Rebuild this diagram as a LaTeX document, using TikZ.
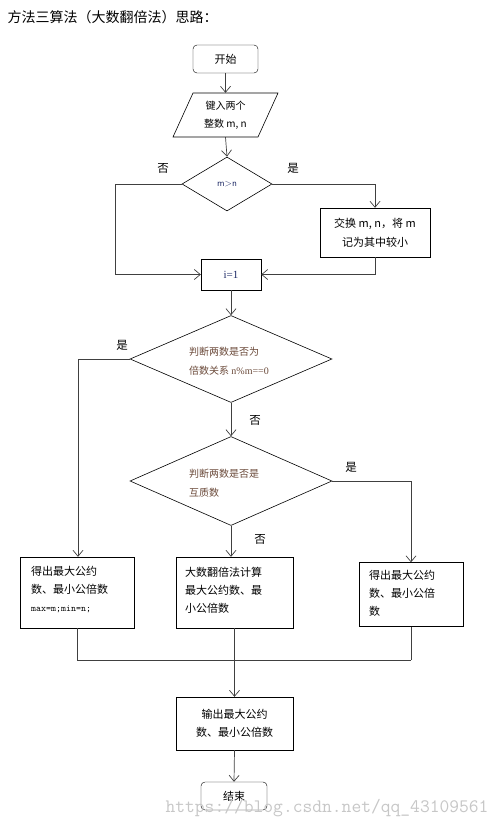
\documentclass[tikz,border=0pt]{standalone}
\usepackage{fontspec}
\setmainfont{Liberation Serif}
\newfontfamily\cjk{Noto Sans CJK SC}
\usetikzlibrary{arrows.meta,shapes.geometric,positioning}
\definecolor{linec}{HTML}{404040}
\definecolor{brownt}{HTML}{6B4A3A}
\definecolor{bluet}{HTML}{1E2A66}
\begin{document}
\begin{tikzpicture}[x=1pt,y=-1pt,
  every node/.style={font=\cjk\fontsize{11}{13}\selectfont},
  term/.style={draw=black,rounded corners=4pt,minimum width=65pt,minimum height=28pt,inner sep=0pt},
  procbox/.style={draw=black,inner sep=0pt},
  decide/.style={draw=black,diamond,inner sep=0pt,line width=0.6pt},
  ghostbox/.style={draw=none,inner sep=0pt},
  conn/.style={draw=linec,line width=0.7pt},
  arr/.style={conn,-{Straight Barb[length=6pt,width=10pt,line width=0.7pt]}},
  lbl/.style={font=\cjk\fontsize{11.5}{13}\selectfont}
]
\useasboundingbox (0,0) rectangle (503,832);
\fill[white] (0,0) rectangle (503,832);

\node[anchor=west,font=\cjk\fontsize{14}{16}\selectfont] (title) at (4,17) {方法三算法（大数翻倍法）思路：};

\node[term] (start) at (225.5,59) {开始};

\node[ghostbox,minimum width=85pt,minimum height=44pt,align=center,font=\cjk\fontsize{10}{17.5}\selectfont] (input) at (225.5,115) {键入两个\\整数 m, n};
\draw[black,line width=0.6pt] (173,137) -- (193,93) -- (278,93) -- (258,137) -- cycle;

\node[decide,minimum width=90pt,minimum height=54pt,font=\sffamily\fontsize{9.5}{11}\selectfont,text=bluet] (d1) at (227,184) {m>n};

\node[procbox,minimum width=110pt,minimum height=49pt,align=center,font=\cjk\fontsize{11}{19}\selectfont] (swap) at (375,232.5) {交换 m, n，将 m\\记为其中较小};

\node[procbox,minimum width=60pt,minimum height=31pt,font=\fontsize{11}{13}\selectfont,text=bluet] (i1) at (231,274.5) {i=1};

\node[decide,minimum width=202pt,minimum height=87pt] (d2) at (231,359) {};
\node[ghostbox,anchor=west,align=left,text=brownt,font=\cjk\fontsize{10}{19}\selectfont] (d2t) at (189,361) {判断两数是否为\\倍数关系 {\rmfamily n\%m==0}};

\node[decide,minimum width=202pt,minimum height=89pt] (d3) at (231,481) {};
\node[ghostbox,anchor=west,align=left,text=brownt,font=\cjk\fontsize{10}{19}\selectfont] (d3t) at (189,483) {判断两数是否是\\互质数};

\node[procbox,minimum width=114pt,minimum height=71pt] (b1) at (77,592.5) {};
\node[ghostbox,anchor=west,align=left,font=\cjk\fontsize{11}{18}\selectfont] (b1t) at (31,590) {得出最大公约\\数、最小公倍数\\{\ttfamily\fontsize{9.5}{11}\selectfont max=m;min=n;}};

\node[procbox,minimum width=117pt,minimum height=71pt] (b2) at (234.5,592.5) {};
\node[ghostbox,anchor=west,align=left,font=\cjk\fontsize{11}{18}\selectfont] (b2t) at (185,590) {大数翻倍法计算\\最大公约数、最\\小公倍数};

\node[procbox,minimum width=104pt,minimum height=64pt] (b3) at (411,594.5) {};
\node[ghostbox,anchor=west,align=left,font=\cjk\fontsize{11}{18}\selectfont] (b3t) at (369,593) {得出最大公约\\数、最小公倍\\数};

\node[procbox,minimum width=117pt,minimum height=53pt,align=center,font=\cjk\fontsize{11}{18}\selectfont] (out) at (234.5,723.5) {输出最大公约\\数、最小公倍数};

\node[term,minimum width=66pt] (end) at (234,796) {结束};

% labels
\node[lbl] (no1) at (163,168) {否};
\node[lbl] (yes1) at (293,168) {是};
\node[lbl] (yes2) at (122,345) {是};
\node[lbl] (no2) at (255,420) {否};
\node[lbl] (yes3) at (351,467) {是};
\node[lbl] (no3) at (260,539) {否};

% connectors
\coordinate (c1) at (115,184);
\coordinate (c2) at (115,274.5);
\coordinate (c3) at (375,184);
\coordinate (c4) at (375,274.5);
\coordinate (c5) at (78,359);
\coordinate (c6) at (411,481);
\coordinate (j1) at (77,660);
\coordinate (j2) at (234.5,660);
\coordinate (j3) at (411,660);

\draw[arr] (start) -- (input.north);
\draw[arr] (input.south) -- (d1.north);
\draw[conn] (d1.west) -- (c1) -- (c2);
\draw[arr] (c2) -- (i1.west);
\draw[arr] (d1.east) -- (c3) -- (swap.north);
\draw[conn] (swap.south) -- (c4);
\draw[arr] (c4) -- (i1.east);
\draw[arr] (i1.south) -- (d2.north);
\draw[arr] (d2.west) -- (c5) -- (b1.north -| c5);
\draw[arr] (d2.south) -- (d3.north);
\draw[arr] (d3.east) -- (c6) -- (b3.north);
\draw[arr] (d3.south) -- (b2.north -| d3.south);
\draw[conn] (b1.south) -- (j1) -- (j3);
\draw[conn] (b3.south) -- (j3);
\draw[arr] (b2.south) -- (out.north);
\draw[arr] (out.south) -- (end.north);

\node[anchor=east,text=black!22,font=\ttfamily\fontsize{19}{21}\selectfont] (wm) at (492,808) {https://blog.csdn.net/qq\_43109561};
\end{tikzpicture}
\end{document}
